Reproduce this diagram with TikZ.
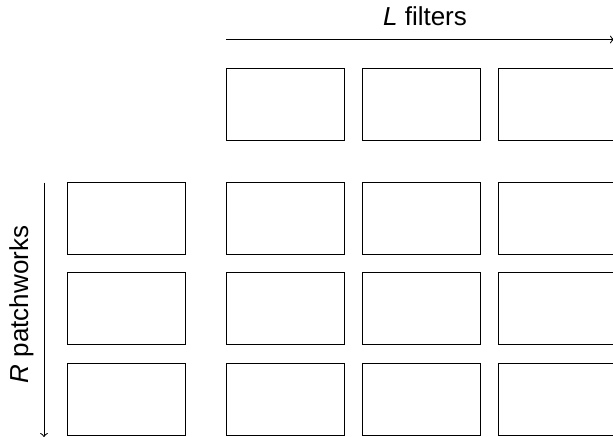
\documentclass[tikz,border=0pt]{standalone}
\usepackage{fontspec}
\setmainfont{Liberation Sans}
\usetikzlibrary{positioning}

\begin{document}
\begin{tikzpicture}[
    x=0.5pt, y=-0.5pt,
    cell/.style={rectangle, draw, line width=0.5pt, minimum width=59pt, minimum height=36pt, inner sep=0pt},
    axis/.style={->, line width=0.5pt},
    lbl/.style={font=\fontsize{13}{15}\selectfont, anchor=base, inner sep=0pt}
]
\useasboundingbox (0,0) rectangle (613,436);
\clip (0,0) rectangle (613,436);

% Filters (top row)
\foreach \j/\x in {1/285, 2/421, 3/557} {
  \node[cell] (f\j) at (\x, 104.5) {};
}

% Patchworks (left column) and grid
\foreach \i/\y in {1/218, 2/308.5, 3/399} {
  \node[cell] (p\i) at (126, \y) {};
  \foreach \j/\x in {1/285, 2/421, 3/557} {
    \node[cell] (c\i\j) at (\x, \y) {};
  }
}

% Axes
\coordinate (lstart) at (226, 39.5);
\coordinate (lend) at (614, 39.5);
\coordinate (rstart) at (44, 182.5);
\coordinate (rend) at (44, 437);
\draw[axis] (lstart) -- (lend);
\draw[axis] (rstart) -- (rend);

% Labels
\node[lbl] (ltitle) at (425, 25.7) {\textit{L} filters};
\node[lbl, rotate=90] (rtitle) at (28, 304.5) {\textit{R} patchworks};

\end{tikzpicture}
\end{document}
